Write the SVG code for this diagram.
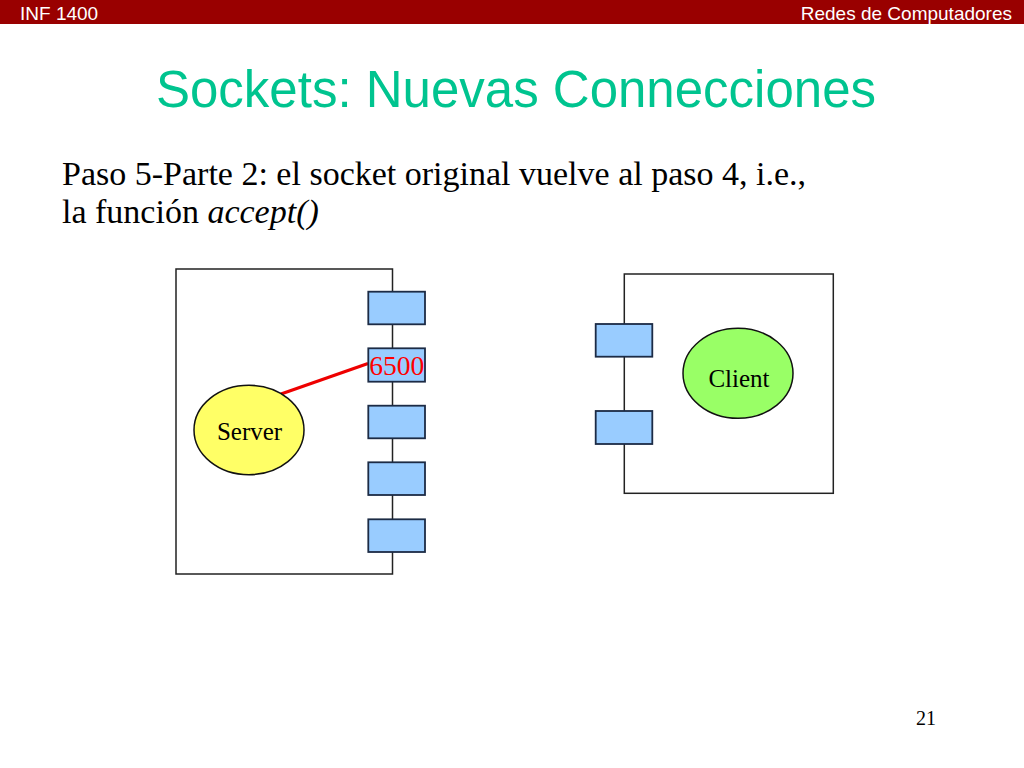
<svg xmlns="http://www.w3.org/2000/svg" width="1024" height="768" viewBox="0 0 1024 768">
<style>
.hdr{font-family:"Liberation Sans",Arial,sans-serif;font-size:19px;fill:#ffffff}
.title{font-family:"Liberation Sans",Arial,sans-serif;font-size:51px;fill:#00C48F}
.body{font-family:"Liberation Serif","Times New Roman",serif;font-size:34px;fill:#000000}
.lbl{font-family:"Liberation Serif","Times New Roman",serif;font-size:25px;fill:#000000;text-anchor:middle}
.box{fill:#ffffff;stroke:#222222;stroke-width:1.5}
.sock{fill:#99CCFF;stroke:#1C2B45;stroke-width:1.8}
.ell{stroke:#111111;stroke-width:1.5}
</style>
<rect x="0" y="0" width="1024" height="768" fill="#ffffff"/>
<rect x="0" y="0" width="1024" height="24" fill="#990000"/>
<text class="hdr" x="20" y="20">INF 1400</text>
<text class="hdr" x="1012" y="20" text-anchor="end">Redes de Computadores</text>
<text class="title" x="516" y="107" text-anchor="middle">Sockets: Nuevas Connecciones</text>
<text class="body" x="62" y="185">Paso 5-Parte 2: el socket original vuelve al paso 4, i.e.,</text>
<text class="body" x="62" y="223">la función <tspan font-style="italic">accept()</tspan></text>

<g id="server-host">
<rect class="box" x="176" y="269" width="216.5" height="305"/>
</g>
<g id="client-host">
<rect class="box" x="624.3" y="274" width="209" height="219.3"/>
</g>

<g id="connectors">
<line x1="281" y1="394" x2="368" y2="363.5" stroke="#EE0000" stroke-width="3.2"/>
</g>

<g id="server-sockets">
<rect class="sock" x="368.3" y="291.7" width="56.7" height="32.6"/>
<rect class="sock" x="368.3" y="348.3" width="56.7" height="33.4"/>
<rect class="sock" x="368.3" y="405.7" width="56.7" height="32.6"/>
<rect class="sock" x="368.3" y="462.3" width="56.7" height="32.7"/>
<rect class="sock" x="368.3" y="519.3" width="56.7" height="32.7"/>
</g>
<g id="port-6500">
<text x="396.7" y="375" font-family="'Liberation Serif','Times New Roman',serif" font-size="27.5" fill="#FF0000" text-anchor="middle">6500</text>
</g>
<g id="client-sockets">
<rect class="sock" x="595.7" y="324" width="56.6" height="32.7"/>
<rect class="sock" x="595.7" y="411" width="56.6" height="33"/>
</g>

<g id="server">
<ellipse class="ell" cx="249" cy="430" rx="55" ry="44.7" fill="#FFFF66"/>
<text class="lbl" x="249.5" y="440">Server</text>
</g>
<g id="client">
<ellipse class="ell" cx="738" cy="373.3" rx="55" ry="45" fill="#99FF66"/>
<text class="lbl" x="739" y="386.5">Client</text>
</g>

<text x="926" y="725" font-family="'Liberation Serif','Times New Roman',serif" font-size="20" fill="#000000" text-anchor="middle">21</text>
</svg>
